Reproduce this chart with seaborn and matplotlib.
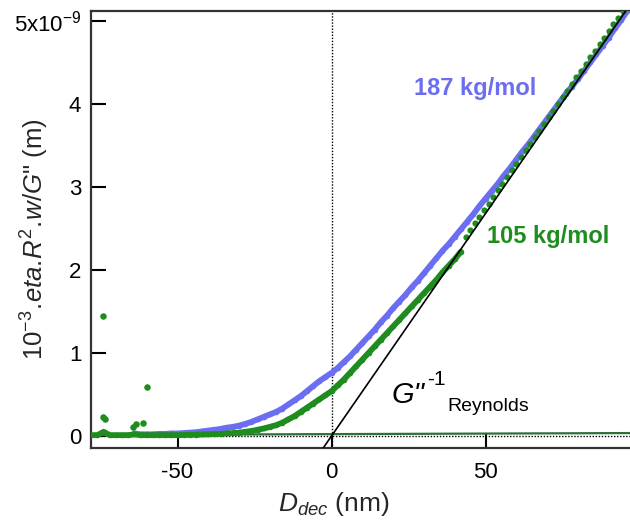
import numpy as np
import pandas as pd
import matplotlib
matplotlib.use("Agg")
import matplotlib.pyplot as plt
import seaborn as sns

# ---------------- data ----------------
blue_x = [-64, -62, -60, -58, -56, -54, -52, -50, -48, -46, -44, -42, -40, -38, -36,
          -34, -32, -30, -28, -26, -24, -22, -20, -18, -16, -14, -12, -10, -8, -6,
          -4, -2, 0, 2, 4, 6, 8, 10, 12, 14, 16, 18, 20, 22, 24, 26, 28, 30, 32, 34,
          36, 38, 40, 42, 44, 46, 48, 50, 52, 54, 56, 58, 60, 62, 64, 66, 68, 70, 72,
          74, 76, 78, 80, 82, 84, 86, 88, 90, 92, 94, 96]
blue_y = [0.03, 0.02, 0.02, 0.02, 0.025, 0.025, 0.03, 0.03, 0.035, 0.04, 0.045, 0.055,
          0.065, 0.075, 0.085, 0.10, 0.11, 0.125, 0.145, 0.17, 0.20, 0.23, 0.26, 0.29,
          0.33, 0.38, 0.43, 0.48, 0.54, 0.60, 0.66, 0.71, 0.76, 0.82, 0.89, 0.96, 1.04,
          1.12, 1.20, 1.28, 1.37, 1.45, 1.54, 1.62, 1.70, 1.79, 1.87, 1.96, 2.05, 2.14,
          2.23, 2.31, 2.40, 2.49, 2.58, 2.67, 2.77, 2.86, 2.95, 3.04, 3.14, 3.23, 3.33,
          3.43, 3.52, 3.62, 3.72, 3.82, 3.92, 4.02, 4.12, 4.21, 4.30, 4.40, 4.50, 4.60,
          4.70, 4.80, 4.91, 5.01, 5.12]

green_x = [-78, -76, -74, -72, -70, -68, -66, -64, -62, -60, -58, -56, -54, -52, -50,
           -48, -46, -44, -42, -40, -38, -36, -34, -32, -30, -28, -26, -24, -22, -20,
           -18, -16, -14, -12, -10, -8, -6, -4, -2, 0, 2, 4, 6, 8, 10, 12, 14, 16, 18,
           20, 22, 24, 26, 28, 30, 32, 34, 36, 38, 40, 42]
green_y = [0.01, 0.01, 0.05, 0.01, 0.01, 0.01, 0.01, 0.02, 0.01, 0.01, 0.01, 0.01,
           0.01, 0.01, 0.01, 0.012, 0.014, 0.016, 0.018, 0.02, 0.022, 0.025, 0.03,
           0.035, 0.04, 0.05, 0.06, 0.075, 0.09, 0.11, 0.13, 0.16, 0.20, 0.24, 0.29,
           0.34, 0.39, 0.44, 0.49, 0.54, 0.61, 0.68, 0.76, 0.84, 0.92, 1.00, 1.08, 1.16,
           1.24, 1.32, 1.40, 1.48, 1.56, 1.64, 1.72, 1.80, 1.88, 1.97, 2.05, 2.13, 2.22]

green_dots_x = [43.5, 45, 46.5, 48, 49.5, 51, 52.5, 54, 55.5, 57, 58.5, 60, 61.5, 63,
                64.5, 66, 67.5, 69, 70.5, 72, 73.5, 75, 76.5, 78, 79.5, 81, 82.5, 84,
                85.5, 87, 88.5, 90, 91.5, 93, 94.5, 96]
green_dots_y = [2.40, 2.48, 2.56, 2.64, 2.72, 2.80, 2.88, 2.96, 3.04, 3.12, 3.20, 3.28,
                3.36, 3.44, 3.52, 3.60, 3.68, 3.76, 3.84, 3.92, 4.00, 4.08, 4.16, 4.24,
                4.32, 4.40, 4.48, 4.56, 4.64, 4.72, 4.80, 4.88, 4.96, 5.04, 5.12, 5.20]

outlier_x = [-74.3, -74.3, -73.6, -64.4, -63.5, -61.1, -59.8]
outlier_y = [1.45, 0.23, 0.21, 0.11, 0.14, 0.16, 0.59]

reynolds_x = [-2.8, 97.0]
reynolds_y = [-0.15, 5.20]

baseline_x = [-78.0, 97.0]
baseline_y = [0.012, 0.035]

x_ticks = [-50, 0, 50]
y_ticks = [0, 1, 2, 3, 4, 5]
y_ticklabels = ["0", "1", "2", "3", "4", r"5x10$^{-9}$"]

BLUE = "#6b6ef0"
GREEN = "#1e8c1e"
DKGREEN = "#2f6f3a"

# ---------------- style ----------------
sns.set_theme(style="white")
plt.rcParams["font.family"] = ["Liberation Sans", "DejaVu Sans"]
plt.rcParams["mathtext.fontset"] = "custom"
plt.rcParams["mathtext.rm"] = "Liberation Sans"
plt.rcParams["mathtext.it"] = "Liberation Sans:italic"
plt.rcParams["mathtext.bf"] = "Liberation Sans:bold"

fig = plt.figure(figsize=(6.3, 5.22), dpi=100)
ax = fig.add_axes([91 / 630, 74 / 522, 1 - 91 / 630, 437 / 522])

# reference dotted lines
ax.axhline(0, color="black", lw=1.0, ls=(0, (1, 1.2)), zorder=1)
ax.axvline(0, color="black", lw=1.0, ls=(0, (1, 1.2)), zorder=1)

# baseline
sns.lineplot(x=baseline_x, y=baseline_y, ax=ax, color=DKGREEN, lw=1.6, zorder=2)

# blue series
blue_df = pd.DataFrame({"x": blue_x, "y": blue_y})
sns.lineplot(data=blue_df, x="x", y="y", ax=ax, color=BLUE, lw=4.2, zorder=3,
             sort=False)
sns.scatterplot(data=blue_df, x="x", y="y", ax=ax, color=BLUE, s=16, linewidth=0,
                zorder=3)

# green series
green_df = pd.DataFrame({"x": green_x, "y": green_y})
sns.lineplot(data=green_df, x="x", y="y", ax=ax, color=GREEN, lw=4.2, zorder=4,
             sort=False)
sns.scatterplot(data=green_df, x="x", y="y", ax=ax, color=GREEN, s=16, linewidth=0,
                zorder=4)
sns.scatterplot(x=green_dots_x, y=green_dots_y, ax=ax, color=GREEN, s=20,
                linewidth=0, zorder=4)
sns.scatterplot(x=outlier_x, y=outlier_y, ax=ax, color=GREEN, s=22, linewidth=0,
                zorder=4)

# Reynolds line
sns.lineplot(x=reynolds_x, y=reynolds_y, ax=ax, color="black", lw=1.2, zorder=5)

ax.set_xlim(-78.1, 96.9)
ax.set_ylim(-0.145, 5.12)
ax.set_xticks(x_ticks)
ax.set_xticklabels([str(t) for t in x_ticks])
ax.set_yticks(y_ticks)
ax.set_yticklabels(y_ticklabels)
ax.tick_params(axis="both", direction="in", length=10, width=1.5, labelsize=16,
               colors="black", bottom=True, left=True)
ax.tick_params(axis="x", pad=10)
ax.tick_params(axis="y", pad=7, length=11)

for side in ["left", "bottom", "top"]:
    ax.spines[side].set_visible(True)
    ax.spines[side].set_color("#333333")
    ax.spines[side].set_linewidth(1.6)
ax.spines["right"].set_visible(False)

ax.set_xlabel(r"$\mathit{D}_{\mathit{dec}}$ (nm)", fontsize=19)
ax.xaxis.set_label_coords(0.451, -0.095)
ax.set_ylabel(r"$10^{-3}\mathit{.\!eta.\!R}^{2}\mathit{.\!w/G}$" + '" (m)',
              fontsize=18.5)
ax.yaxis.set_label_coords(-0.074, 0.478)

ax.text(46.6, 4.19, "187 kg/mol", color=BLUE, fontsize=17, fontweight="bold",
        ha="center", va="center")
ax.text(70.3, 2.40, "105 kg/mol", color=GREEN, fontsize=17, fontweight="bold",
        ha="center", va="center")

ax.text(19.5, 0.49, "G\"", fontsize=21, style="italic", ha="left", va="center",
        color="black")
ax.text(31.0, 0.68, "-1", fontsize=15, ha="left", va="center", color="black")
ax.text(37.7, 0.36, "Reynolds", fontsize=14, ha="left", va="center", color="black")

fig.savefig("out.png", dpi=100)
